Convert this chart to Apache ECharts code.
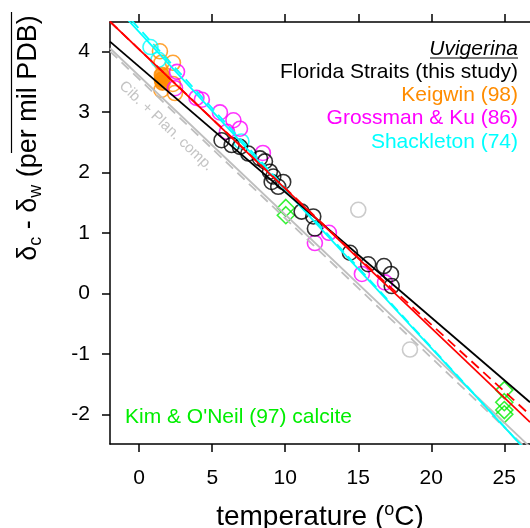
<!DOCTYPE html>
<html><head><meta charset="utf-8">
<script src="https://cdn.jsdelivr.net/npm/echarts@6/dist/echarts.min.js"></script>
<style>html,body{margin:0;padding:0;background:#fff}#c{width:530px;height:528px}</style>
</head><body><div id="c"></div>
<script>
// ---- data (temperature °C, δc - δw per mil) ----
const xTicks = [0, 5, 10, 15, 20, 25];
const yTicks = [-2, -1, 0, 1, 2, 3, 4];

const floridaStraits = [[5.64,2.53],[6.33,2.45],[6.90,2.42],[7.47,2.31],[8.27,2.23],[8.61,2.18],[8.95,2.01],[9.18,1.93],[9.07,1.84],[9.86,1.84],[9.52,1.76],[11.12,1.35],[11.92,1.27],[12.03,1.07],[14.43,0.67],[15.68,0.48],[16.76,0.45],[17.24,0.32],[17.29,0.12]];
const keigwinOpen = [[1.42,4.00],[2.31,3.81],[1.52,3.81],[2.31,3.46],[2.45,3.31],[1.52,3.36]];
const keigwinFilled = [[1.55,3.61],[1.55,3.53],[1.60,3.48]];
const grossmanKu = [[2.59,3.66],[2.45,3.39],[3.92,3.23],[4.29,3.20],[5.53,2.99],[6.45,2.86],[6.90,2.72],[6.01,2.67],[8.47,2.32],[12.03,0.83],[12.99,1.00],[15.25,0.32],[16.83,0.18]];
const shackleton = [[0.77,4.07],[1.32,3.86],[7.00,2.51]];
const kimONeil = [[10.04,1.41],[10.04,1.29],[25.0,-1.60],[25.0,-1.80],[25.0,-1.93],[25.0,-2.00]];
const cibPlanPoints = [[15.0,1.38],[18.54,-0.93]];

const floridaFit = [[-2,4.16],[26.76,-1.80]];
const redFit = [[-2,4.49],[26.76,-2.13]];
const redFitDashed = [[-2,4.49],[15,0.59],[26.76,-2.01]];
const cyanFit = [[-2,4.84],[26.76,-2.67]];
const cyanFitDashed = [[-2,4.90],[26.76,-2.67]];
const grayFit = [[-2,4.05],[26.76,-2.54]];
const grayFitDashed = [[-2,4.00],[26.76,-2.62]];

// ---- chart ----
const FF = '"Liberation Sans", Arial, sans-serif';
const C = {black:'#000000', orange:'#ff8c00', magenta:'#ff00ff', cyan:'#00ffff', red:'#ff0000', green:'#00ee00', gray:'#bebebe'};

function scatter(data, color, opts) {
  return Object.assign({
    type:'scatter', data, symbol:'circle', symbolSize:15, silent:true, z:2,
    itemStyle:{color:'rgba(0,0,0,0)', borderColor:color, borderWidth:1.6}
  }, opts||{});
}
function line(data, color, dashed, width) {
  return {type:'line', data, showSymbol:false, symbol:'none', silent:true, clip:true, z:3,
    lineStyle:{color, width: width||1.8, type: dashed ? [10,6] : 'solid'}};
}

const chart = echarts.init(document.getElementById('c'), null, {renderer:'canvas'});
const axisCommon = {
  type:'value', splitLine:{show:false},
  axisLine:{show:true, onZero:false, lineStyle:{color:'#000', width:1.5}},
};
chart.setOption({
  animation:false,
  backgroundColor:'#fff',
  grid:{left:110, top:22, right:0, bottom:84, containLabel:false, outerBoundsMode:'none'},
  xAxis:[
    Object.assign({}, axisCommon, {
      position:'bottom', min:-2.0, max:26.76,
      axisTick:{show:true, inside:false, length:8, customValues:xTicks, lineStyle:{color:'#000', width:1.5}},
      axisLabel:{show:true, customValues:xTicks, margin:24, fontSize:21, fontFamily:FF, color:'#000'},
      name:'{a|temperature (}{sup|o}{a|C)}', nameLocation:'middle', nameGap:57,
      nameTextStyle:{rich:{a:{fontSize:28, fontFamily:FF, color:'#000'}, sup:{fontSize:18, fontFamily:FF, color:'#000', padding:[0,0,15,0]}}}
    }),
    Object.assign({}, axisCommon, {
      position:'top', min:-2.0, max:26.76,
      axisTick:{show:true, inside:false, length:8, customValues:xTicks, lineStyle:{color:'#000', width:1.5}},
      axisLabel:{show:false}
    })
  ],
  yAxis:[
    Object.assign({}, axisCommon, {
      position:'left', min:-2.491, max:4.484,
      axisTick:{show:true, inside:false, length:8, customValues:yTicks, lineStyle:{color:'#000', width:1.5}},
      axisLabel:{show:true, customValues:yTicks, margin:20, fontSize:21, fontFamily:FF, color:'#000', padding:[3,0,0,0]}
    })
  ],
  series:[
    scatter(cibPlanPoints, C.gray),
    scatter(kimONeil, C.green, {symbol:'diamond', symbolSize:17}),
    scatter(keigwinFilled, C.orange, {itemStyle:{color:C.orange, borderColor:C.orange, borderWidth:1.6}}),
    scatter(keigwinOpen, C.orange),
    scatter(shackleton, C.cyan),
    scatter(grossmanKu, C.magenta),
    scatter(floridaStraits, C.black),
    line(grayFit, C.gray, false),
    line(grayFitDashed, C.gray, true),
    line(cyanFitDashed, C.cyan, true),
    line(cyanFit, C.cyan, false),
    line(floridaFit, C.black, false),
    line(redFitDashed, C.red, true),
    line(redFit, C.red, false)
  ],
  graphic:[
    {type:'text', x:29, y:138, rotation:Math.PI/2, silent:true,
     style:{text:'{a|δ}{s|c}{a| - δ}{s|w}{a| (per mil PDB)}', align:'center', verticalAlign:'middle', textAlign:'center', textVerticalAlign:'middle',
       rich:{a:{fontSize:27, fontFamily:FF, fill:'#000', color:'#000'}, s:{fontSize:18, fontFamily:FF, fill:'#000', color:'#000', padding:[15,0,0,0]}}}},
    {type:'line', silent:true, shape:{x1:11.5, y1:12, x2:11.5, y2:153}, style:{stroke:'#000', lineWidth:1.2}},
    {type:'text', x:518, y:49, silent:true, style:{text:'Uvigerina', font:'italic 21px '+FF, fill:'#000', align:'right', verticalAlign:'middle', textAlign:'right', textVerticalAlign:'middle'}},
    {type:'line', silent:true, shape:{x1:430, y1:58, x2:518, y2:58}, style:{stroke:'#000', lineWidth:1.2}},
    {type:'text', x:518, y:72, silent:true, style:{text:'Florida Straits (this study)', font:'21px '+FF, fill:C.black, align:'right', verticalAlign:'middle', textAlign:'right', textVerticalAlign:'middle'}},
    {type:'text', x:518, y:95, silent:true, style:{text:'Keigwin (98)', font:'21px '+FF, fill:C.orange, align:'right', verticalAlign:'middle', textAlign:'right', textVerticalAlign:'middle'}},
    {type:'text', x:518, y:118, silent:true, style:{text:'Grossman & Ku (86)', font:'21px '+FF, fill:C.magenta, align:'right', verticalAlign:'middle', textAlign:'right', textVerticalAlign:'middle'}},
    {type:'text', x:518, y:142, silent:true, style:{text:'Shackleton (74)', font:'21px '+FF, fill:C.cyan, align:'right', verticalAlign:'middle', textAlign:'right', textVerticalAlign:'middle'}},
    {type:'text', x:125, y:417, silent:true, style:{text:"Kim & O'Neil (97) calcite", font:'21px '+FF, fill:C.green, align:'left', verticalAlign:'middle', textAlign:'left', textVerticalAlign:'middle'}},
    {type:'text', x:166, y:126, rotation:-0.759, silent:true, style:{text:'Cib. + Plan. comp.', font:'15px '+FF, fill:'#c4c4c4', align:'center', verticalAlign:'middle', textAlign:'center', textVerticalAlign:'middle'}}
  ]
});
</script></body></html>
